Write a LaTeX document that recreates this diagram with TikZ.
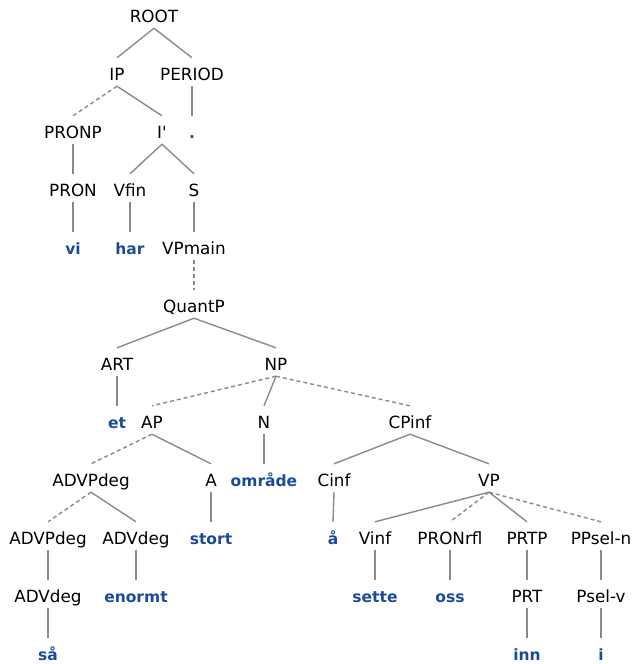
\documentclass[tikz,border=0pt]{standalone}
\usepackage{fontspec}
\setmainfont{DejaVu Sans}
\usepackage{xcolor}
\definecolor{wordblue}{RGB}{28,76,152}
\definecolor{linegrey}{RGB}{138,138,138}

\begin{document}
\begin{tikzpicture}[x=1pt,y=-1pt,
  cat/.style={anchor=base, inner xsep=0pt, inner ysep=2pt, text height=20pt, text depth=4pt,
    font=\fontsize{16.8}{20}\selectfont},
  word/.style={cat, text=wordblue, font=\fontsize{15.5}{18}\selectfont\bfseries},
  edge/.style={draw=linegrey, line width=1.4pt},
  opt/.style={edge, dash pattern=on 4pt off 3pt}]
\useasboundingbox (0,0) rectangle (633,664);

% categories and words, one row per level
\node[cat] (root) at (154,22) {ROOT};
\node[cat] (ip) at (117,80) {IP};
\node[cat] (period) at (192,80) {PERIOD};
\node[cat] (pronp) at (73,138) {PRONP};
\node[cat] (ibar) at (162,138) {I\textquotesingle};
\node[word] (dot) at (192,138) {.};
\node[cat] (pron) at (73,196) {PRON};
\node[cat] (vfin) at (130,196) {Vfin};
\node[cat] (s) at (194,196) {S};
\node[word] (vi) at (73,254) {vi};
\node[word] (har) at (130,254) {har};
\node[cat] (vpmain) at (194,254) {VPmain};
\node[cat] (quantp) at (194,312) {QuantP};
\node[cat] (art) at (117,370) {ART};
\node[cat] (np) at (276,370) {NP};
\node[word] (et) at (117,428) {et};
\node[cat] (ap) at (152,428) {AP};
\node[cat] (n) at (264,428) {N};
\node[cat] (cpinf) at (410,428) {CPinf};
\node[cat] (advpdeg) at (91,486) {ADVPdeg};
\node[cat] (a) at (211,486) {A};
\node[word] (omraade) at (264,486) {område};
\node[cat] (cinf) at (334,486) {Cinf};
\node[cat] (vp) at (489,486) {VP};
\node[cat] (advpdegb) at (48,544) {ADVPdeg};
\node[cat] (advdeg) at (136,544) {ADVdeg};
\node[word] (stort) at (211,544) {stort};
\node[word] (aa) at (333,544) {å};
\node[cat] (vinf) at (375,544) {Vinf};
\node[cat] (pronrfl) at (450,544) {PRONrfl};
\node[cat] (prtp) at (527,544) {PRTP};
\node[cat] (ppseln) at (601,544) {PPsel-n};
\node[cat] (advdegb) at (48,602) {ADVdeg};
\node[word] (enormt) at (136,602) {enormt};
\node[word] (sette) at (375,602) {sette};
\node[word] (oss) at (450,602) {oss};
\node[cat] (prt) at (527,602) {PRT};
\node[cat] (pselv) at (601,602) {Psel-v};
\node[word] (saa) at (48,660) {så};
\node[word] (inn) at (527,660) {inn};
\node[word] (i) at (601,660) {i};

% branches
\draw[edge] (root.south) -- (ip.north);
\draw[edge] (root.south) -- (period.north);
\draw[opt] (ip.south) -- (pronp.north);
\draw[edge] (ip.south) -- (ibar.north);
\draw[edge] (period.south) -- (dot.north);
\draw[edge] (pronp.south) -- (pron.north);
\draw[edge] (ibar.south) -- (vfin.north);
\draw[edge] (ibar.south) -- (s.north);
\draw[edge] (pron.south) -- (vi.north);
\draw[edge] (vfin.south) -- (har.north);
\draw[edge] (s.south) -- (vpmain.north);
\draw[opt] (vpmain.south) -- (quantp.north);
\draw[edge] (quantp.south) -- (art.north);
\draw[edge] (quantp.south) -- (np.north);
\draw[edge] (art.south) -- (et.north);
\draw[opt] (np.south) -- (ap.north);
\draw[edge] (np.south) -- (n.north);
\draw[opt] (np.south) -- (cpinf.north);
\draw[opt] (ap.south) -- (advpdeg.north);
\draw[edge] (ap.south) -- (a.north);
\draw[edge] (n.south) -- (omraade.north);
\draw[edge] (cpinf.south) -- (cinf.north);
\draw[edge] (cpinf.south) -- (vp.north);
\draw[opt] (advpdeg.south) -- (advpdegb.north);
\draw[edge] (advpdeg.south) -- (advdeg.north);
\draw[edge] (a.south) -- (stort.north);
\draw[edge] (cinf.south) -- (aa.north);
\draw[edge] (vp.south) -- (vinf.north);
\draw[opt] (vp.south) -- (pronrfl.north);
\draw[edge] (vp.south) -- (prtp.north);
\draw[opt] (vp.south) -- (ppseln.north);
\draw[edge] (advpdegb.south) -- (advdegb.north);
\draw[edge] (advdeg.south) -- (enormt.north);
\draw[edge] (vinf.south) -- (sette.north);
\draw[edge] (pronrfl.south) -- (oss.north);
\draw[edge] (prtp.south) -- (prt.north);
\draw[edge] (ppseln.south) -- (pselv.north);
\draw[edge] (advdegb.south) -- (saa.north);
\draw[edge] (prt.south) -- (inn.north);
\draw[edge] (pselv.south) -- (i.north);
\end{tikzpicture}
\end{document}
